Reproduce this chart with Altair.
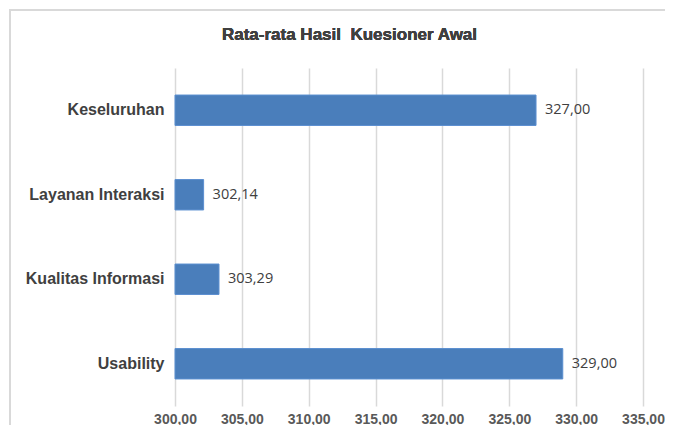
import altair as alt
import pandas as pd

categories = ["Keseluruhan", "Layanan Interaksi", "Kualitas Informasi", "Usability"]
values = [327.00, 302.14, 303.29, 329.00]
labels = ["327,00", "302,14", "303,29", "329,00"]
ticks = [300, 305, 310, 315, 320, 325, 330, 335]
title_text = "Rata-rata Hasil\u00a0 Kuesioner Awal"

df = pd.DataFrame({"cat": categories, "val": values, "lab": labels})

W, H = 468, 338
PL, PT, PR, PB = 167, 60, 22, 19

y_enc = alt.Y("cat:N", sort=categories, title=None,
              scale=alt.Scale(paddingInner=0.64, paddingOuter=0.32),
              axis=alt.Axis(labelFont="Liberation Sans", labelFontWeight="bold",
                            labelFontSize=16, labelColor="#404040",
                            labelPadding=11, ticks=False, domain=False))
x_enc = alt.X("val:Q", title=None,
              scale=alt.Scale(domain=[300, 335], zero=False, nice=False),
              axis=alt.Axis(values=ticks, grid=True, gridColor="#D9D9D9", gridWidth=1.5,
                            domain=False, ticks=False, labelPadding=6, labelFlush=False,
                            labelOverlap=False,
                            labelFont="Liberation Sans", labelFontWeight="bold",
                            labelFontSize=14, labelColor="#595959",
                            labelExpr="replace(format(datum.value, '.2f'), '.', ',')"))

frame = alt.Chart(df).mark_rect(fill="transparent", stroke="#D9D9D9", strokeWidth=1.5,
                                clip=False).encode(
    x=alt.value(-PL + 2), x2=alt.value(W + PR + 30),
    y=alt.value(-PT + 2), y2=alt.value(H + PB + 30))

bars = alt.Chart(df).mark_bar(color="#4A7EBB", stroke="#5B8FD0", strokeWidth=1).encode(
    y=y_enc, x=x_enc, x2=alt.datum(300))

text = alt.Chart(df).mark_text(align="left", baseline="middle", dx=9, font="Open Sans",
                               fontSize=14.5, color="#404040").encode(
    y=alt.Y("cat:N", sort=categories), x="val:Q", text="lab:N")

title = alt.Chart(df).mark_text(font="Liberation Sans", fontWeight="bold", fontSize=17,
                                color="#404040", align="center", baseline="middle").encode(
    x=alt.value(174.5), y=alt.value(-33), text=alt.value(title_text))

chart = alt.layer(frame, bars, text, title).properties(
    width=W, height=H,
    autosize=alt.AutoSizeParams(type="none"),
    padding={"left": PL, "top": PT, "right": PR, "bottom": PB},
).configure_view(stroke=None)

chart.save("out.html", embed_options={"renderer": "svg", "actions": False})
